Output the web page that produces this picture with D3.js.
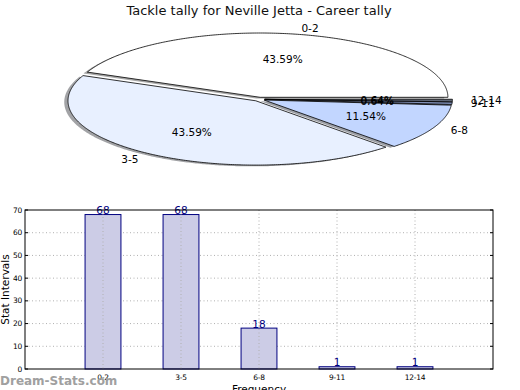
<!DOCTYPE html>
<html><head><meta charset="utf-8">
<script src="https://cdn.jsdelivr.net/npm/d3@7/dist/d3.min.js"></script>
<style>body{margin:0;background:#fff}svg{display:block;font-family:"DejaVu Sans",sans-serif}</style>
</head><body>
<svg id="c" width="520" height="390"></svg>
<script>
const title = "Tackle tally for Neville Jetta - Career tally";
const categories = ["0-2","3-5","6-8","9-11","12-14"];
const counts = [68, 68, 18, 1, 1];
const sliceColors = ["#ffffff","#e8f0ff","#c2d6ff","#8090b8","#606878"];
const yTicks = [0,10,20,30,40,50,60,70];

const svg = d3.select("#c");
svg.append("text").attr("x",259).attr("y",15).attr("text-anchor","middle")
  .attr("font-size","13px").attr("fill","#111").text(title);

// ---- Pie (elliptical, matplotlib style) ----
const cx=259, cy=99.2, rx=187.8, ry=64.3, expl=0.03;
const px = d3.scaleLinear().domain([-1,1]).range([cx-rx,cx+rx]);
const py = d3.scaleLinear().domain([-1,1]).range([cy+ry,cy-ry]);
const total = d3.sum(counts);
const arcs = d3.pie().sort(null).startAngle(0).endAngle(2*Math.PI)(counts);
const line = d3.line();
function wedgePts(a, ox, oy){
  const m=(a.startAngle+a.endAngle)/2;
  const x0=expl*Math.cos(m)+ox, y0=expl*Math.sin(m)+oy;
  const pts=[[px(x0),py(y0)]];
  const n=Math.max(4,Math.ceil((a.endAngle-a.startAngle)/0.01));
  for(let i=0;i<=n;i++){
    const t=a.startAngle+(a.endAngle-a.startAngle)*i/n;
    pts.push([px(x0+Math.cos(t)),py(y0+Math.sin(t))]);
  }
  return line(pts)+"Z";
}
const pie = svg.append("g");
arcs.forEach((a,i)=>{
  const c=d3.color(sliceColors[i]);
  pie.append("path").attr("d",wedgePts(a,-0.02,-0.02))
    .attr("fill",d3.rgb(c.r*0.3,c.g*0.3,c.b*0.3)).attr("fill-opacity",0.5);
});
arcs.forEach((a,i)=>{
  pie.append("path").attr("d",wedgePts(a,0,0))
    .attr("fill",sliceColors[i]).attr("stroke","#000").attr("stroke-width",0.8)
    .attr("stroke-linejoin","round");
});
arcs.forEach((a,i)=>{
  const m=(a.startAngle+a.endAngle)/2;
  const lx=(expl+1.1)*Math.cos(m), ly=(expl+1.1)*Math.sin(m);
  pie.append("text").attr("x",px(lx)).attr("y",py(ly)).attr("dy","0.35em")
    .attr("text-anchor",lx>0?"start":"end").attr("font-size","10.5px").attr("fill","#000")
    .text(categories[i]);
  const tx=(expl+0.6)*Math.cos(m), ty=(expl+0.6)*Math.sin(m);
  pie.append("text").attr("x",px(tx)).attr("y",py(ty)).attr("dy","0.35em")
    .attr("text-anchor","middle").attr("font-size","10.5px").attr("fill","#000")
    .text((counts[i]/total*100).toFixed(2)+"%");
});

// ---- Bar chart ----
const L=25,R=493,T=210,B=369;
const x = d3.scaleLinear().domain([-1,categories.length]).range([L,R]);
const y = d3.scaleLinear().domain([0,70]).range([B,T]);
const g = svg.append("g");
// grid
g.selectAll(".gy").data(yTicks.slice(1,-1)).join("line")
  .attr("x1",L).attr("x2",R).attr("y1",d=>y(d)).attr("y2",d=>y(d))
  .attr("stroke","#b0b0b0").attr("stroke-width",1).attr("stroke-dasharray","1,2.5");
// bars
const bw=0.46;
g.selectAll(".bar").data(counts).join("rect")
  .attr("x",(d,i)=>x(i-bw/2)).attr("width",x(bw)-x(0))
  .attr("y",d=>y(d)).attr("height",d=>y(0)-y(d))
  .attr("fill","#ccccE6").attr("stroke","#000080").attr("stroke-width",1);
g.selectAll(".gx").data(categories).join("line")
  .attr("x1",(d,i)=>x(i)).attr("x2",(d,i)=>x(i)).attr("y1",T).attr("y2",B)
  .attr("stroke","#b0b0b0").attr("stroke-width",1).attr("stroke-dasharray","1,2.5");
g.selectAll(".val").data(counts).join("text")
  .attr("x",(d,i)=>x(i)).attr("y",d=>y(d)-0.5).attr("text-anchor","middle")
  .attr("font-size","10.5px").attr("fill","#000080").text(d=>d);
// frame
g.append("rect").attr("x",L).attr("y",T).attr("width",R-L).attr("height",B-T)
  .attr("fill","none").attr("stroke","#000").attr("stroke-width",1);
// ticks
g.selectAll(".ty").data(yTicks).join("line")
  .attr("x1",L).attr("x2",L+3).attr("y1",d=>y(d)).attr("y2",d=>y(d)).attr("stroke","#000");
g.selectAll(".ty2").data(yTicks).join("line")
  .attr("x1",R).attr("x2",R-3).attr("y1",d=>y(d)).attr("y2",d=>y(d)).attr("stroke","#000");
g.selectAll(".tyl").data(yTicks).join("text")
  .attr("x",L-3).attr("y",d=>y(d)).attr("dy","0.35em").attr("text-anchor","end")
  .attr("font-size","7.5px").attr("fill","#000").attr("letter-spacing","-0.3px").text(d=>d);
g.selectAll(".txl").data(categories).join("text")
  .attr("x",(d,i)=>x(i)).attr("y",B+11).attr("text-anchor","middle")
  .attr("font-size","7.5px").attr("fill","#000").attr("letter-spacing","-0.3px").text(d=>d);
svg.append("text").attr("transform",`translate(9,${(T+B)/2}) rotate(-90)`)
  .attr("text-anchor","middle").attr("font-size","10.5px").attr("fill","#000").text("Stat Intervals");
svg.append("text").attr("x",(L+R)/2).attr("y",393).attr("text-anchor","middle")
  .attr("font-size","10.5px").attr("fill","#000").text("Frequency");
svg.append("text").attr("x",0).attr("y",385).attr("font-size","12px").attr("font-weight","600")
  .attr("fill","#a0a0a0").text("Dream-Stats.com");
</script>
</body></html>
